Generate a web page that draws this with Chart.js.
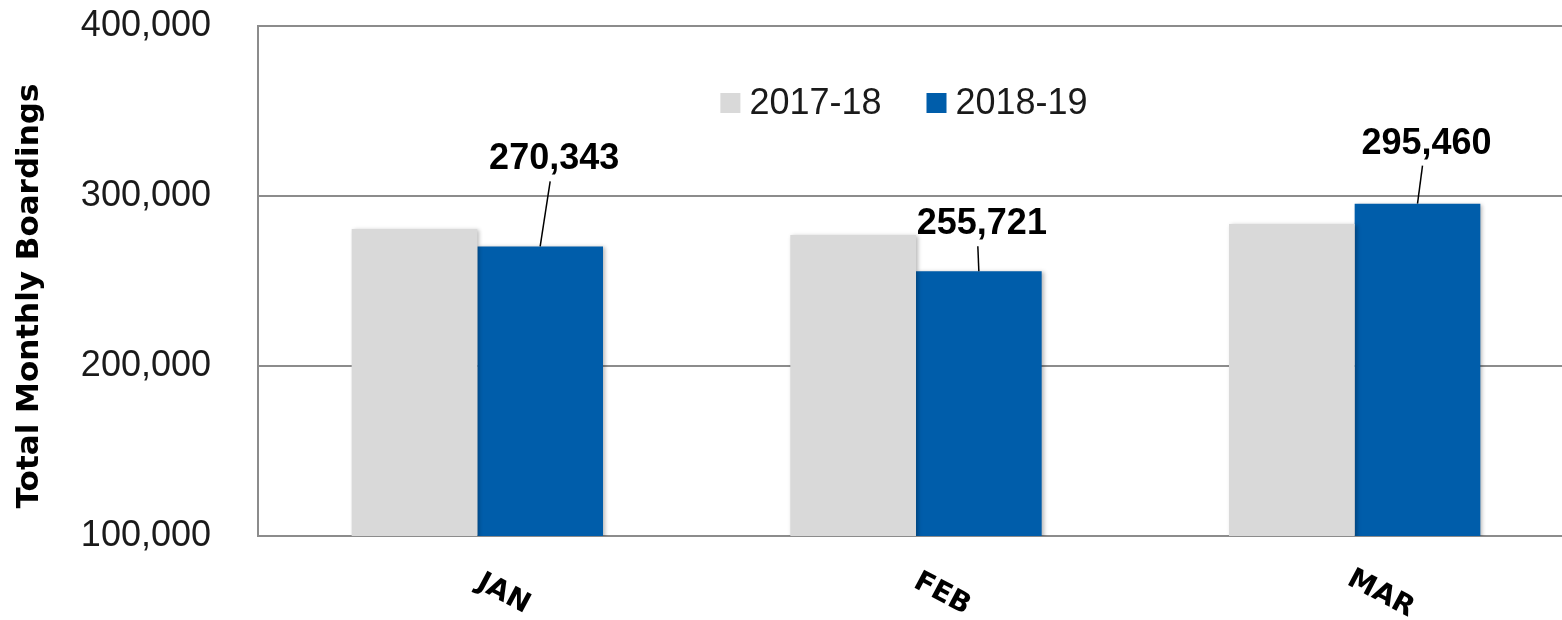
<!DOCTYPE html>
<html>
<head>
<meta charset="utf-8">
<script src="https://cdn.jsdelivr.net/npm/chart.js@4.4.0/dist/chart.umd.min.js"></script>
<style>
html, body { margin: 0; padding: 0; background: #fff; overflow: hidden; }
#wrap { width: 1574px; height: 620px; }
</style>
</head>
<body>
<div id="wrap"><canvas id="boardings"></canvas></div>
<script>
var months = ['JAN', 'FEB', 'MAR'];
var seriesNames = ['2017-18', '2018-19'];
var boardings_1718 = [280600, 277100, 283500];
var boardings_1819 = [270343, 255721, 295460];
var yTicks = [100000, 200000, 300000, 400000];
var yTitle = 'Total Monthly Boardings';

// label offsets for the 2018-19 values (dx, px above bar top), as dragged in the original
var labelNudge = [[14, 90], [3, 50], [9, 63]];

var GRID = '#8c8c8c';
var TICK_FONT = '36px "Liberation Sans", Arial, sans-serif';

function fmt(v) {
    return v.toString().replace(/\B(?=(\d{3})+(?!\d))/g, ',');
}

var barShadow = {
    id: 'barShadow',
    beforeDatasetsDraw: function (chart) {
        var ctx = chart.ctx;
        ctx.save();
        ctx.shadowColor = 'rgba(0,0,0,0.28)';
        ctx.shadowBlur = 4;
        ctx.shadowOffsetX = 2;
        ctx.shadowOffsetY = 1;
    },
    afterDatasetsDraw: function (chart) {
        chart.ctx.restore();
    }
};

var extras = {
    id: 'extras',
    afterDraw: function (chart) {
        var ctx = chart.ctx;
        var area = chart.chartArea;
        var xs = chart.scales.x;

        // value labels with leader lines
        var meta = chart.getDatasetMeta(1);
        ctx.save();
        ctx.font = 'bold 36px "Liberation Sans", Arial, sans-serif';
        ctx.fillStyle = '#000';
        ctx.strokeStyle = '#000';
        ctx.lineWidth = 1.5;
        ctx.textAlign = 'center';
        ctx.textBaseline = 'alphabetic';
        for (var i = 0; i < meta.data.length; i++) {
            var bar = meta.data[i];
            var lx = bar.x + labelNudge[i][0];
            var ly = bar.y - labelNudge[i][1];
            ctx.fillText(fmt(chart.data.datasets[1].data[i]), lx, ly + 13);
            ctx.beginPath();
            ctx.moveTo(lx - 4, ly + 25);
            ctx.lineTo(bar.x, bar.y);
            ctx.stroke();
        }
        ctx.restore();

        // legend inside plot
        ctx.save();
        ctx.font = TICK_FONT;
        ctx.textBaseline = 'middle';
        ctx.textAlign = 'left';
        var sq = 20, gap = 9, between = 45;
        var widths = chart.data.datasets.map(function (d) { return ctx.measureText(d.label).width; });
        var total = widths[0] + widths[1] + 2 * (sq + gap) + between;
        var x = 904 - total / 2;
        var cy = area.top + 77;
        chart.data.datasets.forEach(function (d, k) {
            ctx.fillStyle = d.backgroundColor;
            ctx.fillRect(x, cy - sq / 2, sq, sq);
            x += sq + gap;
            ctx.fillStyle = '#1a1a1a';
            ctx.fillText(d.label, x, cy + 1);
            x += widths[k] + between;
        });
        ctx.restore();

        // rotated month labels
        ctx.save();
        ctx.font = 'bold 28px "DejaVu Sans", sans-serif';
        ctx.fillStyle = '#000';
        ctx.textAlign = 'center';
        ctx.textBaseline = 'middle';
        months.forEach(function (m, i) {
            var cx = xs.getPixelForValue(i);
            ctx.save();
            ctx.translate(cx + 26, area.bottom + 58);
            ctx.rotate(28 * Math.PI / 180);
            ctx.fillText(m, 0, 0);
            ctx.restore();
        });
        ctx.restore();

        // y axis title
        ctx.save();
        ctx.font = 'bold 31px "DejaVu Sans", sans-serif';
        ctx.fillStyle = '#000';
        ctx.textAlign = 'center';
        ctx.textBaseline = 'middle';
        ctx.translate(30, (area.top + area.bottom) / 2 + 15);
        ctx.rotate(-Math.PI / 2);
        ctx.fillText(yTitle, 0, 0);
        ctx.restore();
    }
};

var ctx = document.getElementById('boardings').getContext('2d');
var myChart = new Chart(ctx, {
    type: 'bar',
    data: {
        labels: months,
        datasets: [{
            label: seriesNames[0],
            data: boardings_1718,
            backgroundColor: '#d9d9d9'
        }, {
            label: seriesNames[1],
            data: boardings_1819,
            backgroundColor: '#005daa'
        }]
    },
    options: {
        responsive: true,
        maintainAspectRatio: false,
        animation: false,
        layout: { padding: { top: 26, right: 0, bottom: 0, left: 0 } },
        datasets: { bar: { barPercentage: 1.0, categoryPercentage: 0.573 } },
        plugins: {
            legend: { display: false },
            tooltip: { enabled: false }
        },
        scales: {
            x: {
                ticks: { display: false },
                grid: { display: false },
                border: { display: true, color: GRID, width: 2 },
                afterFit: function (s) {
                    s.height = 84;
                    s.paddingLeft = 0; s.paddingRight = 0;
                }
            },
            y: {
                min: yTicks[0],
                max: yTicks[yTicks.length - 1],
                afterBuildTicks: function (s) {
                    s.ticks = yTicks.map(function (v) { return { value: v }; });
                },
                ticks: {
                    padding: 47,
                    color: '#1a1a1a',
                    font: { family: '"Liberation Sans", Arial, sans-serif', size: 36 },
                    callback: function (v) { return fmt(v); }
                },
                grid: { color: GRID, lineWidth: 2, drawTicks: false },
                border: { display: true, color: GRID, width: 2 },
                afterFit: function (s) {
                    s.width = 258;
                    s.paddingTop = 0; s.paddingBottom = 0;
                }
            }
        }
    },
    plugins: [barShadow, extras]
});
</script>
</body>
</html>
